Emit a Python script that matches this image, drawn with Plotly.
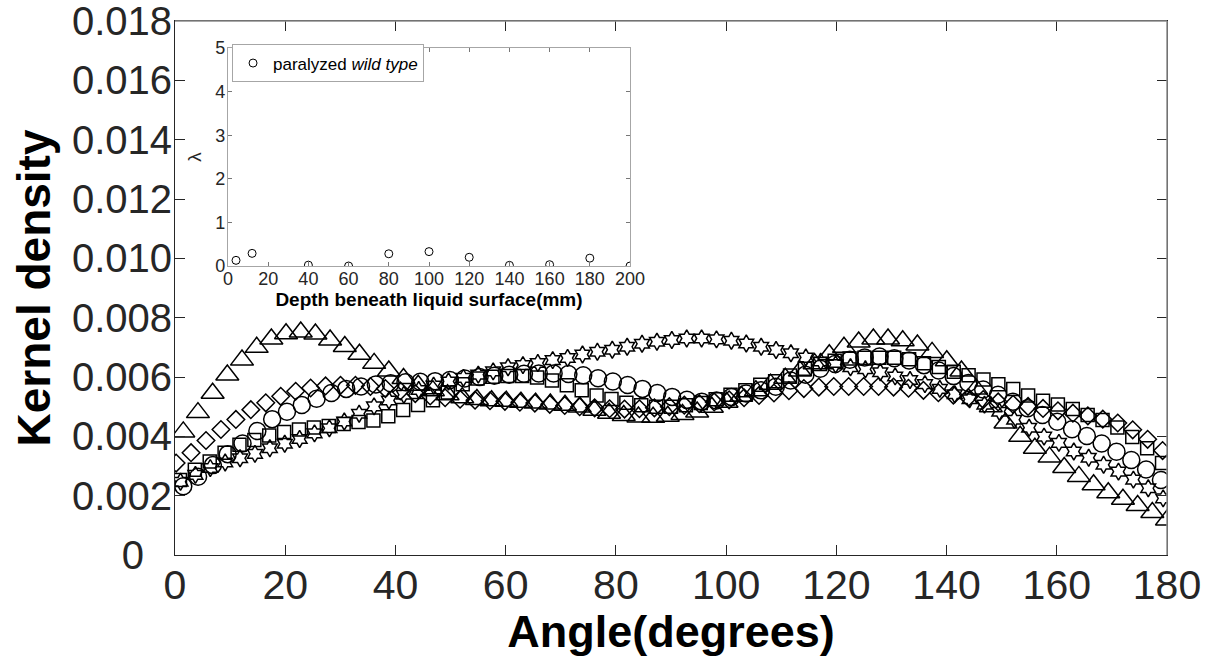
import numpy as np
import plotly.graph_objects as go

# Kernel density curves, values in units of 1e-3
# each series has its own angle grid (start, end, count)
tri_grid = (1.5, 180.0, 68)
tri_vals = [4.15, 4.80, 5.45, 6.07, 6.57, 7.00, 7.28, 7.46, 7.52, 7.45,
            7.25, 7.03, 6.77, 6.46, 6.20, 5.95, 5.72, 5.54, 5.40, 5.30,
            5.24, 5.20, 5.18, 5.15, 5.12, 5.09, 5.05, 4.99, 4.88, 4.78,
            4.70, 4.65, 4.64, 4.68, 4.74, 4.82, 4.98, 5.15, 5.35, 5.54,
            5.76, 5.96, 6.20, 6.45, 6.75, 7.00, 7.18, 7.28, 7.28, 7.22,
            7.08, 6.83, 6.55, 6.20, 5.60, 5.00, 4.45, 4.00, 3.60, 3.30,
            2.95, 2.65, 2.37, 2.10, 1.88, 1.67, 1.43, 1.18]

dia_grid = (0.2, 179.2, 67)
dia_vals = [3.10, 3.45, 3.86, 4.23, 4.57, 4.90, 5.13, 5.35, 5.52, 5.63,
            5.70, 5.72, 5.72, 5.68, 5.61, 5.53, 5.44, 5.36, 5.30, 5.25,
            5.22, 5.20, 5.18, 5.15, 5.12, 5.08, 5.04, 5.00, 4.96, 4.93,
            4.92, 4.93, 4.96, 5.00, 5.05, 5.10, 5.16, 5.23, 5.30, 5.38,
            5.46, 5.54, 5.61, 5.66, 5.68, 5.68, 5.68, 5.68, 5.66, 5.62,
            5.55, 5.47, 5.39, 5.31, 5.24, 5.16, 5.08, 5.01, 4.94, 4.86,
            4.78, 4.69, 4.58, 4.45, 4.22, 3.90, 3.52]

circ_grid = (1.5, 178.9, 67)
circ_vals = [2.32, 2.64, 3.03, 3.40, 3.76, 4.18, 4.58, 4.83, 5.06, 5.27,
             5.46, 5.60, 5.68, 5.75, 5.79, 5.82, 5.84, 5.86, 5.90, 5.95,
             6.00, 6.04, 6.08, 6.11, 6.12, 6.12, 6.10, 6.06, 5.96, 5.85,
             5.73, 5.60, 5.46, 5.33, 5.23, 5.17, 5.21, 5.33, 5.44, 5.55,
             5.67, 5.88, 6.08, 6.28, 6.44, 6.58, 6.66, 6.69, 6.63, 6.56,
             6.40, 6.22, 6.03, 5.80, 5.58, 5.40, 5.17, 4.95, 4.72, 4.49,
             4.24, 4.01, 3.76, 3.48, 3.20, 2.88, 2.53]

sq_grid = (0.9, 179.1, 67)
sq_vals = [2.53, 2.87, 3.15, 3.45, 3.72, 3.88, 4.03, 4.15, 4.23, 4.30,
           4.35, 4.42, 4.48, 4.53, 4.68, 4.89, 5.06, 5.22, 5.48, 5.76,
           5.95, 6.01, 6.03, 6.03, 5.98, 5.88, 5.72, 5.55, 5.38, 5.26,
           5.13, 5.05, 5.00, 5.00, 5.05, 5.12, 5.25, 5.40, 5.55, 5.74,
           5.86, 6.05, 6.28, 6.44, 6.55, 6.62, 6.65, 6.65, 6.65, 6.60,
           6.46, 6.34, 6.18, 6.06, 5.92, 5.76, 5.60, 5.38, 5.20, 5.07,
           4.92, 4.72, 4.55, 4.30, 3.98, 3.60, 3.10]

hex_grid = (1.0, 179.3, 67)
hex_vals = [2.47, 2.70, 2.93, 3.12, 3.26, 3.41, 3.60, 3.75, 3.91, 4.10,
            4.27, 4.50, 4.76, 5.01, 5.21, 5.40, 5.56, 5.71, 5.85, 5.97,
            6.08, 6.19, 6.33, 6.40, 6.47, 6.57, 6.64, 6.76, 6.85, 6.92,
            7.02, 7.12, 7.19, 7.25, 7.30, 7.30, 7.27, 7.22, 7.13, 7.02,
            6.91, 6.80, 6.66, 6.52, 6.42, 6.33, 6.26, 6.16, 6.02, 5.90,
            5.76, 5.60, 5.42, 5.25, 5.07, 4.83, 4.56, 4.29, 3.99, 3.78,
            3.49, 3.28, 3.04, 2.81, 2.54, 2.25, 1.91]

# inset: lambda vs depth
depth = [4, 12, 40, 60, 80, 100, 120, 140, 160, 180, 200]
lam = [0.13, 0.29, 0.02, 0.0, 0.28, 0.33, 0.20, 0.015, 0.03, 0.18, 0.0]

x_ticks = list(range(0, 181, 20))
y_ticks = [0, 0.002, 0.004, 0.006, 0.008, 0.010, 0.012, 0.014, 0.016, 0.018]
# the zero label sits further left in the original, padded here
y_ticktext = ["0\u2002\u2009", "0.002", "0.004", "0.006", "0.008", "0.010",
              "0.012", "0.014", "0.016", "0.018"]

FONT = "Liberation Sans, Arial, Helvetica, sans-serif"
INK = "#262626"

series = [
    (tri_grid, tri_vals, "triangle-up-open", 20),
    (dia_grid, dia_vals, "diamond-open", 13.5),
    (circ_grid, circ_vals, "circle-open", 17),
    (sq_grid, sq_vals, "square-open", 13),
    (hex_grid, hex_vals, "hexagram-open", 13),
]

fig = go.Figure()
for grid, vals, sym, sz in series:
    xs = np.linspace(*grid)
    fig.add_trace(go.Scatter(
        x=xs, y=np.array(vals) * 1e-3, mode="markers", showlegend=False,
        marker=dict(symbol=sym, size=sz, color="black",
                    line=dict(width=1.5, color="black"))))

fig.add_trace(go.Scatter(
    x=depth, y=lam, mode="markers", xaxis="x2", yaxis="y2",
    name="paralyzed <i>wild type</i>",
    marker=dict(symbol="circle-open", size=8, color="black",
                line=dict(width=1, color="black"))))

fig.update_layout(
    width=1211, height=657,
    margin=dict(l=175, r=44, t=21, b=102),
    paper_bgcolor="white", plot_bgcolor="white",
    font=dict(family=FONT, color=INK),
    xaxis=dict(
        range=[0, 180], tickvals=x_ticks, ticks="inside", ticklen=10,
        tickcolor=INK, showline=True, linecolor=INK, linewidth=1,
        mirror="ticks", showgrid=False, zeroline=False, automargin=False,
        tickfont=dict(size=41, color=INK), ticklabelstandoff=-6,
        title=dict(text="Angle(degrees)", standoff=2,
                   font=dict(size=45, weight="bold", color="black"))),
    yaxis=dict(
        range=[0, 0.018001], tickvals=y_ticks, ticktext=y_ticktext,
        ticks="inside", ticklen=10, tickcolor=INK, showline=True,
        linecolor=INK, linewidth=1, mirror="ticks", showgrid=False,
        zeroline=False, automargin=False, tickfont=dict(size=40, color=INK),
        ticklabelstandoff=-6, ticklabeloverflow="allow",
        title=dict(text="Kernel density", standoff=6,
                   font=dict(size=46, weight="bold", color="black"))),
    xaxis2=dict(
        domain=[0.0534, 0.4587], anchor="y2", range=[0, 200],
        tickvals=list(range(0, 201, 20)), ticks="inside", ticklen=4,
        tickcolor="#777", showline=True, linecolor="#a6a6a6",
        mirror="ticks", showgrid=False, zeroline=False, automargin=False,
        tickfont=dict(size=18, color=INK), ticklabelstandoff=-4,
        title=dict(text="Depth beneath liquid surface(mm)", standoff=2,
                   font=dict(size=19, weight="bold", color="black"))),
    yaxis2=dict(
        domain=[0.5412, 0.9494], anchor="x2", range=[0, 5],
        tickvals=[0, 1, 2, 3, 4, 5], ticks="inside", ticklen=4,
        tickcolor="#777", showline=True, linecolor="#a6a6a6",
        mirror="ticks", showgrid=False, zeroline=False, automargin=False,
        tickfont=dict(size=18, color=INK), ticklabelstandoff=-2,
        title=dict(text="λ", standoff=8, font=dict(size=19, color=INK))),
    legend=dict(x=0.0575, y=0.956, xanchor="left", yanchor="top",
                bgcolor="white", bordercolor="#a6a6a6", borderwidth=1,
                font=dict(size=17, color="black"), itemwidth=30,
                tracegroupgap=0),
)

# top and right frame of the main axes are lighter in the original
fig.add_shape(type="line", xref="paper", yref="paper", x0=0, x1=1, y0=1, y1=1,
              line=dict(color="#8c8c8c", width=1.5), layer="above")
fig.add_shape(type="line", xref="paper", yref="paper", x0=1, x1=1, y0=0, y1=1,
              line=dict(color="#8c8c8c", width=1.5), layer="above")

fig.write_html("out.html", config={"displayModeBar": False},
               post_script="document.body.style.margin='0';")
